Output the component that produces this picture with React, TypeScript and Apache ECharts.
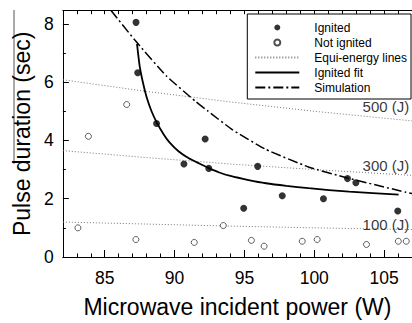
import React, { useEffect, useRef } from "react";
import * as echarts from "echarts";

// ---- data ----
const ignited: number[][] = [
  [87.24, 8.05], [87.36, 6.32], [88.71, 4.58], [90.67, 3.19], [92.19, 4.05],
  [92.45, 3.04], [94.95, 1.67], [95.95, 3.11], [97.71, 2.1], [100.66, 2.0],
  [102.38, 2.69], [102.98, 2.55], [105.98, 1.58],
];
const notIgnited: number[][] = [
  [83.08, 1.0], [83.83, 4.14], [86.57, 5.23], [87.23, 0.6], [91.41, 0.5],
  [93.49, 1.08], [95.5, 0.57], [96.41, 0.37], [99.14, 0.54], [100.21, 0.6],
  [103.74, 0.43], [106.02, 0.54], [106.59, 0.54],
];
const ignitedFit: number[][] = [
  [87.31, 7.31], [87.5, 6.55], [87.75, 5.95], [88.0, 5.48], [88.35, 5.0],
  [88.74, 4.6], [89.2, 4.22], [89.62, 3.94], [90.3, 3.62], [91.05, 3.38],
  [91.8, 3.2], [92.45, 3.05], [93.2, 2.9], [94.0, 2.78], [95.3, 2.64],
  [96.54, 2.53], [98.0, 2.44], [99.6, 2.36], [102.5, 2.24], [106.04, 2.14],
];
const simulation: number[][] = [
  [85.45, 8.46], [87.14, 7.45], [89.4, 6.22], [91.52, 5.33], [92.35, 5.02],
  [94.13, 4.37], [96.5, 3.7], [99.58, 3.09], [102.3, 2.72], [106.58, 2.22],
  [107, 2.18],
];
const equi500: number[][] = [[82, 6.08], [88, 5.68], [94, 5.32], [100, 5.0], [107, 4.67]];
const equi300: number[][] = [[82, 3.65], [88, 3.41], [94, 3.19], [100, 3.0], [107, 2.8]];
const equi100: number[][] = [[82, 1.2], [88, 1.13], [94, 1.06], [100, 1.0], [107, 0.94]];
const energyLabels = ["500 (J)", "300 (J)", "100 (J)"];
const legendNames = ["Ignited", "Not ignited", "Equi-energy lines", "Ignited fit", "Simulation"];
const xMajor = [85, 90, 95, 100, 105];
const xMinor = [83, 84, 86, 87, 88, 89, 91, 92, 93, 94, 96, 97, 98, 99, 101, 102, 103, 104, 106];
const xAll = [83, 84, 85, 86, 87, 88, 89, 90, 91, 92, 93, 94, 95, 96, 97, 98, 99, 100, 101, 102, 103, 104, 105, 106];
const yMajor = [0, 2, 4, 6, 8];
const yMinor = [1, 3, 5, 7];

const FONT = "'Liberation Sans', Arial, Helvetica, sans-serif";

export default function App() {
  const ref = useRef<HTMLDivElement>(null);
  useEffect(() => {
    document.body.style.margin = "0";
    if (!ref.current) return;
    const chart = echarts.init(ref.current, null, { renderer: "svg" });
    const dotted = { color: "#777", width: 1, type: [1, 2] as any };
    const labelAnchors = [
      [106.95, 5.16],
      [106.95, 3.14],
      [106.95, 1.11],
    ];
    chart.setOption({
      animation: false,
      backgroundColor: "#fff",
      textStyle: { fontFamily: FONT },
      grid: { left: 62.85, top: 10.7, width: 351.25, height: 251.6, containLabel: false },
      xAxis: [
        {
          type: "value", min: 82, max: 107, position: "bottom",
          axisLine: { show: true, onZero: false, lineStyle: { color: "#000", width: 1 } },
          axisTick: { show: true, inside: true, length: 7, customValues: xMajor, lineStyle: { color: "#000" } },
          axisLabel: { customValues: xMajor, fontSize: 17.5, color: "#000", margin: 12, fontFamily: FONT },
          splitLine: { show: false },
          name: "Microwave incident power (W)", nameLocation: "middle", nameGap: 38,
          nameTextStyle: { fontSize: 23, color: "#000", fontFamily: FONT },
        },
        {
          type: "value", min: 82, max: 107, position: "bottom",
          axisLine: { show: false },
          axisTick: { show: true, inside: true, length: 3.5, customValues: xMinor, lineStyle: { color: "#000" } },
          axisLabel: { show: false },
          splitLine: { show: false },
        },
        {
          type: "value", min: 82, max: 107, position: "top",
          axisLine: { show: true, onZero: false, lineStyle: { color: "#000", width: 1 } },
          axisTick: { show: true, inside: true, length: 3.5, customValues: xAll, lineStyle: { color: "#000" } },
          axisLabel: { show: false },
          splitLine: { show: false },
        },
      ],
      yAxis: [
        {
          type: "value", min: 0, max: 8.45, position: "left",
          axisLine: { show: true, onZero: false, lineStyle: { color: "#000", width: 1 } },
          axisTick: { show: true, inside: true, length: 6, customValues: yMajor, lineStyle: { color: "#000" } },
          axisLabel: { customValues: yMajor, fontSize: 17.5, color: "#000", margin: 9, fontFamily: FONT },
          splitLine: { show: false },
          name: "Pulse duration (sec)", nameLocation: "middle", nameGap: 29,
          nameTextStyle: { fontSize: 23, color: "#000", fontFamily: FONT },
        },
        {
          type: "value", min: 0, max: 8.45, position: "left",
          axisLine: { show: false },
          axisTick: { show: true, inside: true, length: 3, customValues: yMinor, lineStyle: { color: "#000" } },
          axisLabel: { show: false },
          splitLine: { show: false },
        },
      ],
      legend: {
        orient: "vertical",
        left: 247.3,
        top: 14,
        itemWidth: 44,
        itemHeight: 6,
        itemGap: 0,
        padding: [6, 4, 4, 7],
        borderColor: "#000",
        borderWidth: 1,
        backgroundColor: "#fff",
        textStyle: { fontSize: 12, color: "#000", fontFamily: FONT, lineHeight: 15, padding: [0, 0, 0, 10] },
        data: legendNames.map((n, i) => (i >= 2 ? { name: n, itemStyle: { opacity: 0 } } : { name: n })),
      },
      graphic: [
        {
          type: "line",
          shape: { x1: 14, y1: 10, x2: 14, y2: 164 },
          style: { stroke: "#555", lineWidth: 1 },
          silent: true,
        },
      ],
      series: [
        {
          name: "Equi-energy lines", type: "line", data: equi500, symbol: "none",
          lineStyle: dotted, itemStyle: { color: "#777" }, xAxisIndex: 0, yAxisIndex: 0, z: 1,
        },
        {
          name: "Equi-energy lines", type: "line", data: equi300, symbol: "none",
          lineStyle: dotted, itemStyle: { color: "#777" }, xAxisIndex: 0, yAxisIndex: 0, z: 1,
        },
        {
          name: "Equi-energy lines", type: "line", data: equi100, symbol: "none",
          lineStyle: dotted, itemStyle: { color: "#777" }, xAxisIndex: 0, yAxisIndex: 0, z: 1,
        },
        {
          name: "Ignited fit", type: "line", data: ignitedFit, symbol: "none",
          smooth: 0.2,
          lineStyle: { color: "#000", width: 1.8 }, itemStyle: { color: "#000" },
          xAxisIndex: 0, yAxisIndex: 0, z: 2,
        },
        {
          name: "Simulation", type: "line", data: simulation, symbol: "none",
          smooth: 0.15,
          lineStyle: { color: "#000", width: 1.5, type: [10, 3, 2, 3] }, itemStyle: { color: "#000" },
          xAxisIndex: 0, yAxisIndex: 0, z: 2,
        },
        {
          name: "Ignited", type: "scatter", data: ignited, symbol: "circle", symbolSize: 7,
          itemStyle: { color: "#000" }, xAxisIndex: 0, yAxisIndex: 0, z: 3,
        },
        {
          name: "Not ignited", type: "scatter", data: notIgnited, symbol: "circle", symbolSize: 6,
          itemStyle: { color: "#fff", borderColor: "#222", borderWidth: 0.9 },
          xAxisIndex: 0, yAxisIndex: 0, z: 3,
        },
        {
          name: "energy labels", type: "scatter", symbolSize: 0, silent: true,
          data: labelAnchors.map((p, i) => ({ value: p, name: energyLabels[i] })),
          label: {
            show: true, position: "left", distance: 2, formatter: "{b}",
            fontSize: 15, color: "#000", fontFamily: FONT,
          },
          xAxisIndex: 0, yAxisIndex: 0, z: 4,
        },
      ],
    });
    return () => chart.dispose();
  }, []);
  return <div ref={ref} style={{ width: 412, height: 323 }} />;
}
